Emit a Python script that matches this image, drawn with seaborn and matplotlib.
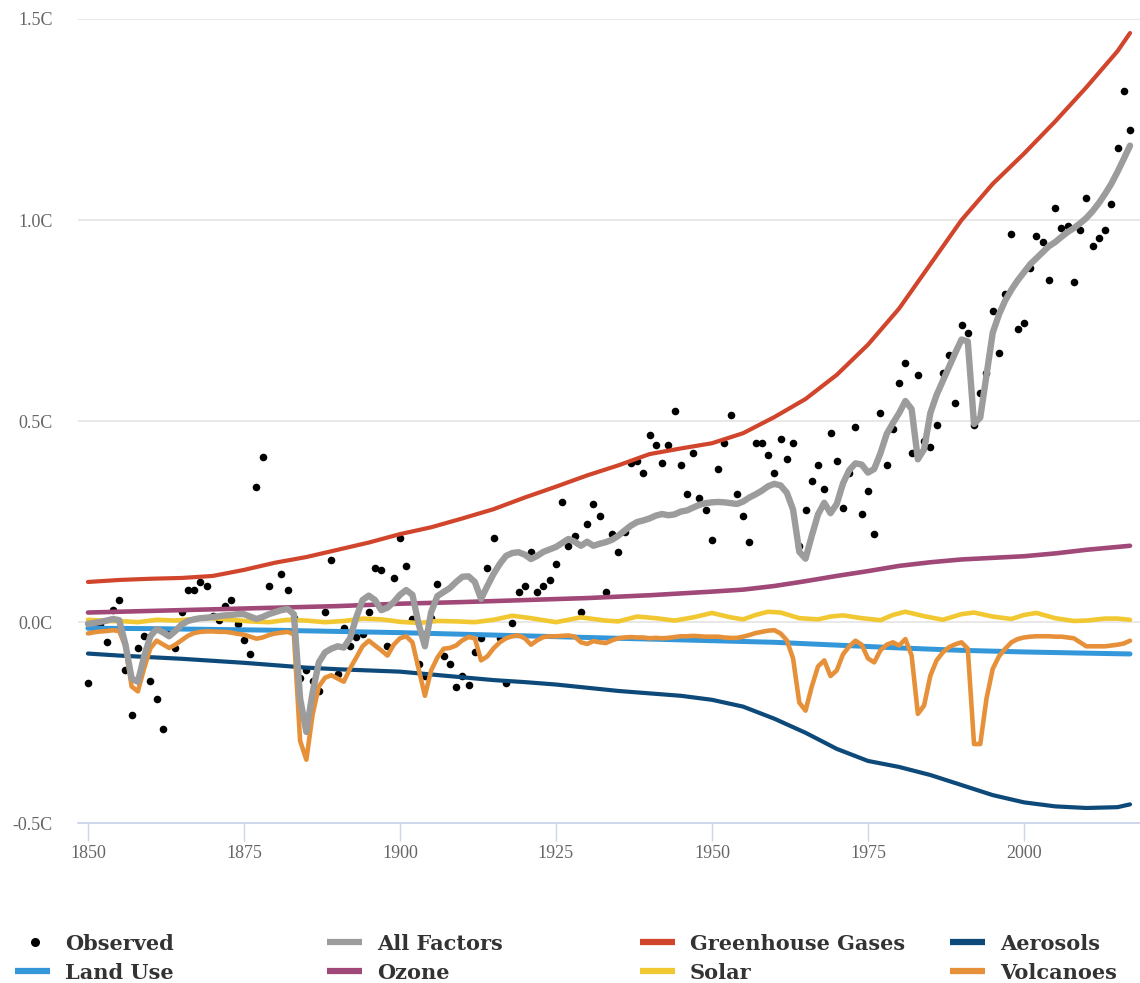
import numpy as np
import pandas as pd
import seaborn as sns
import matplotlib.pyplot as plt
from matplotlib.lines import Line2D

# yearly series 1850-2017
years = list(range(1850, 2018))

observed = [
    -0.15, -0.015, -0.005, -0.05, 0.03, 0.055, -0.12, -0.23, -0.065, -0.035,
    -0.145, -0.19, -0.265, -0.03, -0.065, 0.025, 0.08, 0.08, 0.10, 0.09,
    0.015, 0.005, 0.04, 0.055, -0.005, -0.045, -0.08, 0.335, 0.41, 0.09,
    0.03, 0.12, 0.08, 0.01, -0.14, -0.12, -0.145, -0.17, 0.025, 0.155,
    -0.13, -0.015, -0.06, -0.037, -0.03, 0.025, 0.135, 0.13, -0.06, 0.11,
    0.21, 0.14, 0.007, -0.105, -0.135, 0.01, 0.095, -0.085, -0.105, -0.16,
    -0.135, -0.155, -0.075, -0.04, 0.135, 0.21, -0.04, -0.15, -0.003, 0.075,
    0.09, 0.175, 0.075, 0.09, 0.105, 0.145, 0.30, 0.19, 0.215, 0.025,
    0.245, 0.295, 0.265, 0.075, 0.22, 0.175, 0.225, 0.395, 0.40, 0.37,
    0.465, 0.44, 0.395, 0.44, 0.525, 0.39, 0.32, 0.42, 0.31, 0.28,
    0.205, 0.38, 0.445, 0.515, 0.32, 0.265, 0.20, 0.445, 0.445, 0.415,
    0.37, 0.455, 0.405, 0.445, 0.19, 0.28, 0.35, 0.39, 0.33, 0.47,
    0.40, 0.285, 0.37, 0.485, 0.27, 0.325, 0.22, 0.52, 0.39, 0.48,
    0.595, 0.645, 0.42, 0.615, 0.45, 0.435, 0.49, 0.62, 0.665, 0.545,
    0.74, 0.72, 0.49, 0.57, 0.62, 0.775, 0.67, 0.815, 0.965, 0.73,
    0.745, 0.88, 0.96, 0.945, 0.85, 1.03, 0.98, 0.985, 0.845, 0.975,
    1.055, 0.935, 0.955, 0.975, 1.04, 1.18, 1.32, 1.225,
]

all_factors = [
    -0.004, -0.002, 0.001, 0.004, 0.008, 0.005, -0.055, -0.14, -0.148, -0.085,
    -0.035, -0.017, -0.025, -0.035, -0.022, -0.006, 0.003, 0.007, 0.01, 0.011,
    0.013, 0.015, 0.017, 0.018, 0.02, 0.02, 0.014, 0.008, 0.013, 0.02,
    0.025, 0.03, 0.033, 0.02, -0.19, -0.273, -0.175, -0.1, -0.075, -0.066,
    -0.06, -0.063, -0.04, 0.012, 0.055, 0.066, 0.055, 0.03, 0.036, 0.05,
    0.068, 0.08, 0.068, -0.005, -0.06, 0.025, 0.065, 0.075, 0.085, 0.1,
    0.113, 0.114, 0.1, 0.058, 0.09, 0.12, 0.145, 0.165, 0.172, 0.174,
    0.168, 0.157, 0.165, 0.175, 0.181, 0.187, 0.197, 0.207, 0.2, 0.19,
    0.2, 0.19, 0.195, 0.199, 0.205, 0.215, 0.228, 0.24, 0.249, 0.253,
    0.258, 0.265, 0.269, 0.266, 0.268, 0.275, 0.278, 0.285, 0.292, 0.296,
    0.298, 0.299, 0.298, 0.296, 0.294, 0.3, 0.31, 0.318, 0.327, 0.338,
    0.344, 0.34, 0.322, 0.28, 0.175, 0.158, 0.215, 0.268, 0.297, 0.271,
    0.294, 0.345, 0.378, 0.395, 0.392, 0.372, 0.381, 0.42, 0.468, 0.495,
    0.52, 0.55, 0.53, 0.405, 0.43, 0.52, 0.565, 0.6, 0.635, 0.67,
    0.703, 0.698, 0.493, 0.509, 0.615, 0.72, 0.765, 0.8, 0.827, 0.85,
    0.87, 0.89, 0.905, 0.92, 0.935, 0.945, 0.958, 0.97, 0.98, 0.992,
    1.005, 1.022, 1.042, 1.065, 1.09, 1.12, 1.152, 1.185,
]

volcanoes = [
    -0.028, -0.025, -0.023, -0.022, -0.02, -0.022, -0.06, -0.16, -0.172, -0.115,
    -0.065, -0.046, -0.055, -0.064, -0.056, -0.045, -0.034, -0.027, -0.024, -0.023,
    -0.023, -0.024, -0.024, -0.026, -0.029, -0.031, -0.036, -0.041, -0.038, -0.032,
    -0.028, -0.026, -0.024, -0.03, -0.295, -0.342, -0.23, -0.16, -0.138, -0.132,
    -0.14, -0.148, -0.115, -0.088, -0.06, -0.046, -0.058, -0.07, -0.083, -0.056,
    -0.04, -0.035, -0.05, -0.117, -0.183, -0.12, -0.088, -0.066, -0.064, -0.058,
    -0.045, -0.037, -0.04, -0.095, -0.085, -0.065, -0.05, -0.04, -0.035, -0.033,
    -0.04, -0.056, -0.045, -0.037, -0.035, -0.035, -0.034, -0.033, -0.036, -0.05,
    -0.054, -0.047, -0.05, -0.052, -0.045, -0.04, -0.038, -0.037, -0.038, -0.038,
    -0.04, -0.039, -0.04, -0.039, -0.037, -0.035, -0.035, -0.034, -0.035, -0.036,
    -0.036, -0.036, -0.038, -0.039, -0.039, -0.036, -0.032, -0.027, -0.024, -0.021,
    -0.02, -0.028, -0.045, -0.09, -0.2, -0.22, -0.16, -0.11, -0.095, -0.134,
    -0.12, -0.08, -0.06, -0.046, -0.056, -0.09, -0.1, -0.07, -0.056, -0.05,
    -0.058, -0.042, -0.083, -0.228, -0.207, -0.133, -0.095, -0.075, -0.062, -0.055,
    -0.05, -0.066, -0.303, -0.303, -0.19, -0.116, -0.085, -0.066, -0.05, -0.042,
    -0.038, -0.036, -0.035, -0.035, -0.035, -0.036, -0.036, -0.038, -0.04, -0.05,
    -0.06, -0.06, -0.06, -0.06, -0.058, -0.056, -0.053, -0.046,
]

# smoother series, read every few years
ghg_years = [1850, 1855, 1860, 1865, 1870, 1875, 1880, 1885, 1890, 1895, 1900, 1905,
             1910, 1915, 1920, 1925, 1930, 1935, 1940, 1945, 1950, 1955, 1960, 1965,
             1970, 1975, 1980, 1985, 1990, 1995, 2000, 2005, 2010, 2015, 2017]
ghg = [0.100, 0.105, 0.108, 0.110, 0.115, 0.130, 0.148, 0.162, 0.180, 0.198, 0.219, 0.236,
       0.258, 0.281, 0.310, 0.337, 0.365, 0.390, 0.418, 0.432, 0.445, 0.470, 0.510, 0.555,
       0.615, 0.690, 0.780, 0.890, 1.000, 1.090, 1.165, 1.245, 1.330, 1.420, 1.465]

aer_years = ghg_years
aerosols = [-0.078, -0.083, -0.087, -0.091, -0.096, -0.101, -0.107, -0.113, -0.117, -0.120,
            -0.123, -0.130, -0.137, -0.144, -0.149, -0.155, -0.163, -0.171, -0.177, -0.183,
            -0.193, -0.210, -0.240, -0.275, -0.315, -0.345, -0.360, -0.380, -0.405, -0.430,
            -0.448, -0.458, -0.462, -0.460, -0.453]

land_years = [1850, 1860, 1870, 1880, 1890, 1900, 1910, 1920, 1930, 1940, 1950,
              1960, 1970, 1980, 1990, 2000, 2010, 2017]
land_use = [-0.015, -0.016, -0.018, -0.020, -0.023, -0.026, -0.030, -0.034, -0.038,
            -0.042, -0.046, -0.050, -0.057, -0.064, -0.070, -0.074, -0.077, -0.079]

ozone_years = [1850, 1860, 1870, 1880, 1890, 1900, 1910, 1920, 1930, 1940, 1950, 1955,
               1960, 1965, 1970, 1975, 1980, 1985, 1990, 1995, 2000, 2005, 2010, 2017]
ozone = [0.024, 0.028, 0.032, 0.036, 0.040, 0.046, 0.050, 0.055, 0.060, 0.067, 0.076, 0.081,
         0.090, 0.102, 0.115, 0.127, 0.140, 0.149, 0.156, 0.160, 0.164, 0.171, 0.180, 0.190]

solar_years = [1850, 1853, 1856, 1858, 1861, 1864, 1867, 1870, 1873, 1876, 1879, 1882,
               1885, 1888, 1891, 1894, 1897, 1900, 1903, 1906, 1909, 1912, 1915, 1918,
               1921, 1925, 1929, 1933, 1935, 1938, 1941, 1944, 1947, 1950, 1953, 1955,
               1957, 1959, 1961, 1964, 1967, 1969, 1971, 1974, 1977, 1979, 1981, 1984,
               1987, 1990, 1992, 1995, 1998, 2000, 2002, 2005, 2008, 2010, 2013, 2015, 2017]
solar = [0.006, 0.003, 0.002, 0.0, 0.006, 0.004, 0.008, 0.010, 0.006, 0.002, 0.0, 0.006,
         0.004, 0.0, 0.003, 0.009, 0.007, 0.001, -0.002, 0.003, 0.002, 0.0, 0.006, 0.016,
         0.010, 0.0, 0.012, 0.004, 0.002, 0.014, 0.010, 0.004, 0.012, 0.023, 0.012, 0.007,
         0.018, 0.026, 0.024, 0.010, 0.007, 0.014, 0.017, 0.010, 0.005, 0.018, 0.026, 0.015,
         0.006, 0.020, 0.024, 0.014, 0.008, 0.018, 0.023, 0.010, 0.003, 0.004, 0.009, 0.009, 0.006]

sns.set_theme(style="white")
plt.rcParams['font.family'] = ['Liberation Serif', 'DejaVu Serif']

fig = plt.figure(figsize=(11.4, 9.83), dpi=100)
ax = fig.add_axes([0.0684, 0.1625, 0.9316, 0.8182])

line_kw = dict(solid_capstyle='round', solid_joinstyle='round')

sns.scatterplot(x=years, y=observed, color='black', s=30, linewidth=0, ax=ax, zorder=2)
sns.lineplot(x=ghg_years, y=ghg, color='#d0452b', lw=3.0, ax=ax, zorder=3, **line_kw)
sns.lineplot(x=aer_years, y=aerosols, color='#0d4a7a', lw=3.0, ax=ax, zorder=3, **line_kw)
sns.lineplot(x=land_years, y=land_use, color='#3497da', lw=3.6, ax=ax, zorder=3, **line_kw)
sns.lineplot(x=ozone_years, y=ozone, color='#a04878', lw=3.3, ax=ax, zorder=3, **line_kw)
sns.lineplot(x=solar_years, y=solar, color='#f2c832', lw=3.3, ax=ax, zorder=3, **line_kw)
sns.lineplot(x=years, y=volcanoes, color='#e6913a', lw=3.3, ax=ax, zorder=4, **line_kw)
sns.lineplot(x=years, y=all_factors, color='#9c9c9c', lw=4.6, ax=ax, zorder=5, **line_kw)

ax.set_xlim(1848.4, 2018.6)
ax.set_ylim(-0.5, 1.5)
ax.set_xticks([1850, 1875, 1900, 1925, 1950, 1975, 2000])
ax.set_yticks([-0.5, 0.0, 0.5, 1.0, 1.5])
ax.set_yticklabels(['-0.5C', '0.0C', '0.5C', '1.0C', '1.5C'])
ax.set_xlabel('')
ax.set_ylabel('')
ax.grid(axis='y', color='#e6e6e6', lw=1.3)
ax.grid(axis='x', visible=False)
for s in ['left', 'top', 'right']:
    ax.spines[s].set_visible(False)
ax.spines['bottom'].set_color('#ccd6eb')
ax.spines['bottom'].set_linewidth(1.3)
ax.tick_params(axis='x', bottom=True, length=13, width=1, color='#ccd6eb', pad=3,
               labelsize=13, labelcolor='#666666')
ax.tick_params(axis='y', length=0, pad=18, labelsize=13, labelcolor='#666666')

# legend, laid out in two rows of four like the original
leg_labels = ['Observed', 'All Factors', 'Greenhouse Gases', 'Aerosols',
              'Land Use', 'Ozone', 'Solar', 'Volcanoes']
leg_colors = ['black', '#9c9c9c', '#d0452b', '#0d4a7a',
              '#3497da', '#a04878', '#f2c832', '#e6913a']
W, H = 1140, 983
col_x = [65, 377, 690, 1000]
row_y = [942, 971]
for i, (lab, col) in enumerate(zip(leg_labels, leg_colors)):
    tx = col_x[i % 4]
    ty = row_y[i // 4]
    if lab == 'Observed':
        fig.add_artist(Line2D([(tx - 30) / W], [1 - ty / H], marker='o', markersize=5.5,
                              color='black', linestyle='none', transform=fig.transFigure))
    else:
        fig.add_artist(Line2D([(tx - 50) / W, (tx - 15) / W], [1 - ty / H, 1 - ty / H],
                              color=col, lw=4.5, solid_capstyle='butt',
                              transform=fig.transFigure))
    fig.text(tx / W, 1 - (ty + 8) / H, lab, fontsize=15, fontweight='bold',
             family=['DejaVu Serif'], color='#333333', va='baseline', ha='left')

fig.savefig('out.png', dpi=100)
